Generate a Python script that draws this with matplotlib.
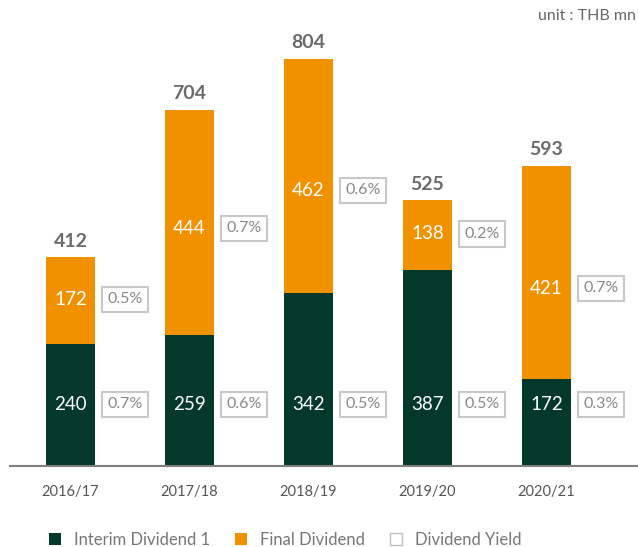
import matplotlib.pyplot as plt
from matplotlib.patches import Patch

years = ["2016/17", "2017/18", "2018/19", "2019/20", "2020/21"]
interim = [240, 259, 342, 387, 172]
final = [172, 444, 462, 138, 421]
totals = [412, 704, 804, 525, 593]
yield_interim = ["0.7%", "0.6%", "0.5%", "0.5%", "0.3%"]
yield_final = ["0.5%", "0.7%", "0.6%", "0.2%", "0.7%"]

# height (in THB mn units) where the final dividend label sits
final_label_y = [329, 469, 544, 458, 351]

GREEN = "#03382b"
ORANGE = "#f29100"
GREY = "#6b6b6b"

plt.rcParams['font.family'] = ['Lato', 'DejaVu Sans']

fig = plt.figure(figsize=(6.38, 5.47), dpi=100)
# axes placed in pixel terms: baseline at y=466, left edge at x=10
ax = fig.add_axes([10 / 638, 81 / 547, 628 / 638, 456 / 547])
ax.set_xlim(-0.508, 4.769)
ax.set_ylim(0, 900)

x = list(range(len(years)))
w = 0.41
ax.bar(x, interim, width=w, color=GREEN)
ax.bar(x, final, width=w, bottom=interim, color=ORANGE)

box = dict(boxstyle="square,pad=0.35", fc="white", ec="#c8c8c8", lw=1.5)
for i in x:
    top = interim[i] + final[i]
    ax.text(i, 122, str(interim[i]), ha="center", va="center", color="white", fontsize=13.5)
    ax.text(i, final_label_y[i], str(final[i]), ha="center", va="center",
            color="white", fontsize=13.5)
    ax.annotate(str(totals[i]), (i, top), xytext=(0, 11.5), textcoords="offset points",
                ha="center", va="center", color=GREY, fontsize=14, fontweight="bold")
    ax.text(i + 0.458, 122, yield_interim[i], ha="center", va="center",
            color="#888888", fontsize=11.5, bbox=box)
    ax.text(i + 0.458, final_label_y[i], yield_final[i], ha="center", va="center",
            color="#888888", fontsize=11.5, bbox=box)

for s in ["top", "right", "left"]:
    ax.spines[s].set_visible(False)
ax.spines["bottom"].set_color("#808080")
ax.spines["bottom"].set_linewidth(1.5)
ax.set_yticks([])
ax.set_xticks(x)
ax.set_xticklabels(years, color="#555555", fontsize=10.5)
ax.tick_params(axis="x", length=0, pad=14)

fig.text(636 / 638, 1 - 16 / 547, "unit : THB mn", ha="right", va="center",
         color="#666666", fontsize=11.5)

handles = [Patch(fc=GREEN), Patch(fc=ORANGE), Patch(fc="white", ec="#c0c0c0")]
fig.legend(handles, ["Interim Dividend 1", "Final Dividend", "Dividend Yield"],
           loc="center", bbox_to_anchor=(0.447, 1 - 540 / 547), ncol=3, frameon=False,
           handlelength=0.7, handleheight=0.7, columnspacing=1.5, handletextpad=0.8,
           fontsize=12, labelcolor="#777777")

fig.savefig("out.png", dpi=100)
